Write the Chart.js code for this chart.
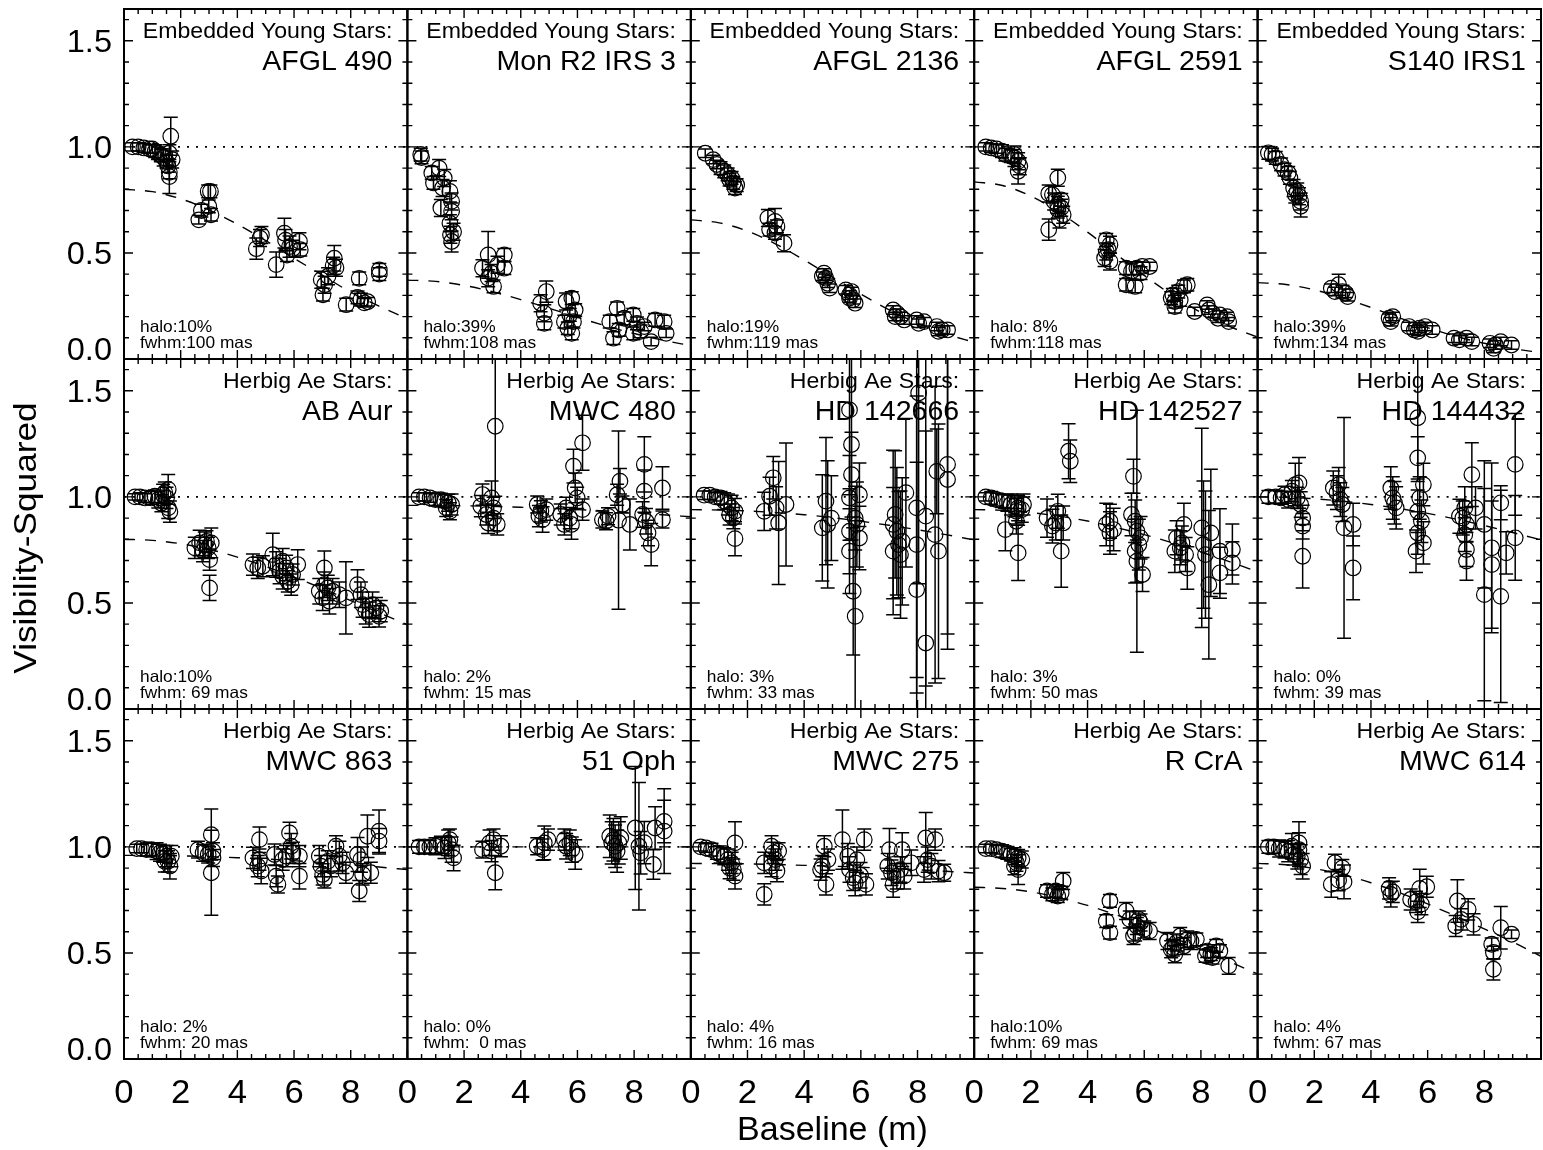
<!DOCTYPE html>
<html>
<head>
<meta charset="utf-8">
<script src="https://cdn.jsdelivr.net/npm/chart.js@4.4.1/dist/chart.umd.min.js"></script>
<style>
  html, body { margin: 0; padding: 0; background: #fff; overflow: hidden; }
  #wrap { position: relative; width: 1550px; height: 1150px; }
</style>
</head>
<body>
<div id="wrap"><canvas id="visChart" width="1550" height="1150"></canvas></div>
<script>
// ---- labels ----
const groups = [
  'Embedded Young Stars:', 'Embedded Young Stars:', 'Embedded Young Stars:', 'Embedded Young Stars:', 'Embedded Young Stars:',
  'Herbig Ae Stars:', 'Herbig Ae Stars:', 'Herbig Ae Stars:', 'Herbig Ae Stars:', 'Herbig Ae Stars:',
  'Herbig Ae Stars:', 'Herbig Ae Stars:', 'Herbig Ae Stars:', 'Herbig Ae Stars:', 'Herbig Ae Stars:'
];
const stars = ['AFGL 490', 'Mon R2 IRS 3', 'AFGL 2136', 'AFGL 2591', 'S140 IRS1',
  'AB Aur', 'MWC 480', 'HD 142666', 'HD 142527', 'HD 144432',
  'MWC 863', '51 Oph', 'MWC 275', 'R CrA', 'MWC 614'];
const halos = ['halo:10%', 'halo:39%', 'halo:19%', 'halo: 8%', 'halo:39%',
  'halo:10%', 'halo: 2%', 'halo: 3%', 'halo: 3%', 'halo: 0%',
  'halo: 2%', 'halo: 0%', 'halo: 4%', 'halo:10%', 'halo: 4%'];
const fwhms = ['fwhm:100 mas', 'fwhm:108 mas', 'fwhm:119 mas', 'fwhm:118 mas', 'fwhm:134 mas',
  'fwhm: 69 mas', 'fwhm: 15 mas', 'fwhm: 33 mas', 'fwhm: 50 mas', 'fwhm: 39 mas',
  'fwhm: 20 mas', 'fwhm:  0 mas', 'fwhm: 16 mas', 'fwhm: 69 mas', 'fwhm: 67 mas'];
const xTickLabels = [0, 2, 4, 6, 8];
const yTickLabels = [0.0, 0.5, 1.0, 1.5];
const xTitle = 'Baseline (m)';
const yTitle = 'Visibility-Squared';
const unity = 1.0;

// ---- measurements: [baseline (m), V^2, error] ----
const afgl490 = [[0.3,1.00,0.02],[0.5,1.00,0.02],[0.7,0.995,0.02],[0.9,0.99,0.02],
  [1.0,0.99,0.02],[1.1,0.98,0.03],[1.2,0.97,0.03],[1.3,0.96,0.03],[1.4,0.95,0.04],[1.5,0.93,0.03],[1.55,0.91,0.03],[1.6,0.88,0.03],[1.6,0.97,0.04],[1.7,0.94,0.04],[1.65,1.05,0.09],[1.6,0.86,0.08],
  [2.64,0.656,0.02],[2.73,0.70,0.03],[2.97,0.79,0.03],[3.05,0.79,0.03],[2.99,0.72,0.03],[3.07,0.68,0.03],
  [4.67,0.52,0.05],[4.85,0.585,0.04],[4.8,0.57,0.04],[5.37,0.445,0.06],
  [5.66,0.593,0.07],[5.7,0.56,0.05],[5.84,0.53,0.05],[5.95,0.52,0.04],[5.75,0.49,0.03],[6.19,0.555,0.04],[6.22,0.515,0.03],
  [6.96,0.374,0.04],[7.02,0.303,0.03],[7.08,0.35,0.04],[7.2,0.39,0.04],[7.42,0.475,0.06],[7.48,0.43,0.04],[7.38,0.44,0.04],
  [7.84,0.256,0.03],[8.3,0.38,0.03],[8.36,0.28,0.03],[8.48,0.265,0.02],[8.6,0.27,0.02],[8.24,0.29,0.03],
  [9.01,0.42,0.03],[9.01,0.40,0.03]];
const monR2 = [[0.47,0.964,0.03],[0.5,0.95,0.03],
  [0.86,0.877,0.03],[1.12,0.90,0.04],[0.92,0.83,0.03],[1.3,0.853,0.04],[1.24,0.806,0.04],[1.18,0.712,0.04],[1.5,0.79,0.05],[1.56,0.743,0.04],[1.56,0.696,0.04],[1.5,0.64,0.04],[1.63,0.60,0.04],[1.56,0.554,0.05],[1.52,0.586,0.04],
  [2.85,0.491,0.11],[2.65,0.428,0.04],[2.97,0.405,0.04],[3.04,0.342,0.03],[3.42,0.491,0.03],[3.42,0.428,0.03],[3.18,0.444,0.04],[2.85,0.381,0.04],
  [4.9,0.318,0.05],[4.7,0.263,0.04],[4.83,0.216,0.04],[4.83,0.168,0.03],
  [5.6,0.271,0.04],[5.8,0.287,0.03],[5.73,0.208,0.03],[5.86,0.176,0.03],[5.8,0.121,0.03],[5.54,0.176,0.03],[5.92,0.231,0.03],[5.66,0.145,0.03],
  [7.4,0.239,0.03],[7.14,0.176,0.03],[7.27,0.098,0.03],[7.46,0.137,0.03],[7.65,0.192,0.03],[7.97,0.208,0.03],[8.1,0.168,0.03],[7.97,0.121,0.03],
  [8.36,0.153,0.02],[8.74,0.184,0.03],[8.6,0.082,0.02],[9.06,0.176,0.03],[9.13,0.121,0.02],[8.23,0.13,0.03]];
const afgl2136 = [[0.51,0.97,0.02],[0.79,0.94,0.02],[0.92,0.917,0.02],[1.05,0.90,0.03],[1.18,0.885,0.03],[1.3,0.87,0.03],[1.44,0.854,0.03],[1.5,0.83,0.03],[1.56,0.806,0.03],[1.62,0.82,0.03],[1.37,0.846,0.03],
  [2.72,0.665,0.04],[2.97,0.649,0.06],[2.78,0.61,0.03],[2.97,0.594,0.03],[3.29,0.546,0.04],[3.04,0.625,0.03],
  [4.7,0.405,0.02],[4.76,0.381,0.02],[4.83,0.357,0.02],[4.9,0.334,0.02],[4.64,0.39,0.02],
  [5.47,0.326,0.02],[5.6,0.302,0.02],[5.73,0.279,0.02],[5.8,0.263,0.02],[5.6,0.287,0.02],[5.67,0.318,0.02],
  [7.14,0.231,0.02],[7.27,0.216,0.02],[7.4,0.20,0.02],[7.53,0.184,0.02],[7.21,0.20,0.02],
  [7.97,0.184,0.02],[8.23,0.176,0.02],[8.04,0.168,0.02],[8.68,0.153,0.02],[8.87,0.137,0.02],[9.06,0.137,0.02],[8.74,0.13,0.02]];
const afgl2591 = [[0.41,1.0,0.02],[0.6,0.995,0.02],[0.79,0.99,0.02],[0.98,0.98,0.03],[1.1,0.964,0.03],[1.3,0.956,0.03],[1.42,0.948,0.04],[1.55,0.932,0.04],[1.61,0.909,0.04],[1.55,0.885,0.06],[1.42,0.964,0.04],
  [2.95,0.854,0.04],[2.63,0.78,0.04],[2.76,0.775,0.04],[2.63,0.61,0.05],[2.82,0.743,0.04],[2.95,0.727,0.04],[3.07,0.75,0.03],[2.95,0.705,0.04],[3.14,0.68,0.04],[3.01,0.657,0.04],[3.07,0.713,0.04],
  [4.66,0.562,0.03],[4.79,0.539,0.04],[4.73,0.515,0.03],[4.6,0.476,0.04],[4.79,0.46,0.04],[4.66,0.507,0.04],
  [5.36,0.428,0.03],[5.55,0.413,0.04],[5.74,0.428,0.03],[5.93,0.436,0.02],[6.19,0.436,0.02],[5.36,0.35,0.03],[5.68,0.342,0.03],[5.87,0.405,0.03],
  [7.01,0.302,0.03],[7.08,0.271,0.03],[7.2,0.318,0.03],[7.4,0.342,0.03],[7.52,0.35,0.03],[6.95,0.287,0.03],[7.27,0.279,0.03],[7.08,0.247,0.03],
  [7.78,0.224,0.02],[8.22,0.255,0.02],[8.28,0.231,0.02],[8.41,0.216,0.02],[8.67,0.208,0.02],[8.92,0.20,0.02],[8.98,0.176,0.02],[8.6,0.192,0.02]];
const s140 = [[0.38,0.972,0.03],[0.51,0.964,0.03],[0.64,0.948,0.03],[0.83,0.917,0.03],[0.95,0.893,0.03],[1.08,0.877,0.03],[1.14,0.854,0.03],[1.27,0.806,0.04],[1.4,0.79,0.04],[1.46,0.767,0.04],[1.52,0.743,0.04],[1.52,0.72,0.05],[1.33,0.775,0.04],
  [2.6,0.334,0.02],[2.86,0.35,0.05],[2.99,0.318,0.03],[3.18,0.294,0.02],[2.73,0.318,0.02],[3.11,0.31,0.02],
  [4.64,0.192,0.02],[4.7,0.176,0.02],[4.77,0.20,0.02],
  [5.34,0.153,0.02],[5.53,0.137,0.02],[5.72,0.145,0.02],[5.91,0.153,0.02],[6.16,0.137,0.02],[5.66,0.13,0.02],
  [6.93,0.098,0.02],[7.12,0.09,0.02],[7.37,0.098,0.02],[7.56,0.082,0.02],
  [8.2,0.074,0.02],[8.39,0.066,0.02],[8.58,0.082,0.02],[8.96,0.066,0.02],[8.33,0.05,0.02]];
const abAur = [[0.39,1.0,0.015],[0.56,1.0,0.02],[0.74,0.995,0.02],[0.97,0.995,0.03],[1.09,1.003,0.03],[1.21,0.987,0.04],[1.38,1.01,0.05],[1.5,0.995,0.05],[1.56,1.035,0.07],[1.62,0.93,0.05],[1.56,0.948,0.05],[1.44,1.02,0.05],[1.32,0.97,0.04],
  [2.5,0.76,0.05],[2.67,0.783,0.06],[2.85,0.775,0.06],[2.97,0.76,0.05],[3.08,0.783,0.07],[3.02,0.704,0.05],[3.02,0.571,0.06],[2.79,0.744,0.05],[2.91,0.79,0.05],
  [4.55,0.681,0.05],[4.72,0.665,0.05],[4.9,0.673,0.05],
  [5.25,0.728,0.1],[5.37,0.681,0.06],[5.49,0.65,0.06],[5.6,0.626,0.06],[5.72,0.665,0.06],[5.78,0.602,0.05],[5.95,0.634,0.05],[6.13,0.681,0.07],[5.9,0.586,0.05],[5.6,0.697,0.06],
  [7.07,0.665,0.08],[6.89,0.555,0.06],[7.01,0.524,0.06],[7.19,0.571,0.06],[7.36,0.555,0.06],[7.6,0.539,0.06],[7.83,0.524,0.17],[7.25,0.508,0.06],[7.07,0.586,0.06],
  [8.24,0.586,0.07],[8.36,0.539,0.06],[8.42,0.492,0.06],[8.53,0.461,0.06],[8.65,0.445,0.06],[8.89,0.476,0.05],[9.06,0.461,0.05],[9.0,0.437,0.05],[8.77,0.492,0.06]];
const mwc480 = [[0.41,1.0,0.02],[0.6,1.0,0.02],[0.8,0.995,0.02],[0.99,0.987,0.03],[1.18,0.987,0.03],[1.31,0.98,0.03],[1.44,0.972,0.04],[1.56,0.964,0.05],[1.5,0.932,0.04],[1.37,0.948,0.04],
  [2.65,1.011,0.05],[2.59,0.956,0.05],[2.78,0.917,0.05],[2.97,0.995,0.08],[3.04,0.90,0.06],[3.1,1.333,0.33],[3.17,0.87,0.05],[2.85,0.877,0.05],[3.04,0.948,0.05],
  [4.58,0.964,0.04],[4.71,0.932,0.05],[4.77,0.893,0.06],[4.9,0.94,0.05],[4.64,0.909,0.05],
  [5.41,0.917,0.05],[5.6,0.948,0.05],[5.73,0.90,0.05],[5.79,0.87,0.07],[5.92,1.042,0.07],[5.86,1.145,0.08],[6.18,1.255,0.13],[6.18,0.94,0.05],[5.99,0.995,0.05],[5.54,0.87,0.05],
  [6.88,0.893,0.04],[7.01,0.885,0.04],[7.08,0.909,0.04],[7.45,0.89,0.42],[7.5,1.074,0.06],[7.4,1.01,0.05],[7.59,0.964,0.04],
  [7.85,0.87,0.12],[8.36,1.153,0.13],[8.36,1.027,0.1],[8.3,0.917,0.06],[8.42,0.885,0.06],[8.6,0.775,0.1],[9.0,1.042,0.1],[9.0,0.893,0.04],[8.49,0.83,0.06]];
const hd142666 = [[0.47,1.008,0.02],[0.67,1.008,0.02],[0.86,1.0,0.02],[1.05,0.995,0.03],[1.18,0.98,0.04],[1.31,0.964,0.05],[1.44,0.948,0.06],[1.56,0.932,0.06],[1.5,0.90,0.05],[1.37,0.917,0.05],[1.56,0.803,0.08],
  [2.59,0.932,0.09],[2.78,1.003,0.09],[2.91,1.09,0.1],[3.01,0.948,0.1],[3.1,0.877,0.29],[3.36,0.964,0.29],
  [4.77,0.98,0.3],[4.83,0.87,0.3],[4.64,0.854,0.25],[4.96,0.90,0.2],
  [5.6,1.41,0.4],[5.67,1.247,0.45],[5.67,1.105,0.2],[5.6,0.995,0.2],[5.8,0.90,0.15],[5.86,0.87,0.2],[5.6,0.838,0.2],[5.95,0.806,0.15],[5.6,0.744,0.2],[5.73,0.555,0.3],[5.8,0.437,0.45],[5.95,1.01,0.15],
  [7.14,0.87,0.35],[7.21,0.917,0.3],[7.14,0.744,0.3],[7.33,0.775,0.25],[7.4,0.728,0.3],[7.46,0.79,0.3],[7.59,1.02,0.35],[7.27,0.838,0.3],
  [8.04,1.49,0.9],[7.97,0.948,0.8],[7.97,0.775,0.7],[7.97,0.563,0.6],[8.29,0.909,0.8],[8.29,0.311,1.0],[8.62,0.822,0.7],[8.74,0.744,0.6],[8.68,1.12,0.2],[9.06,1.153,0.8],[9.06,1.082,0.8]];
const hd142527 = [[0.41,1.0,0.02],[0.6,0.995,0.03],[0.79,0.987,0.03],[0.98,0.98,0.03],[1.17,0.972,0.04],[1.3,0.964,0.05],[1.42,0.956,0.05],[1.55,0.948,0.06],[1.68,0.94,0.06],[1.1,0.846,0.1],[1.49,0.885,0.06],[1.55,0.736,0.13],[1.49,0.932,0.06],[1.74,0.964,0.05],
  [2.57,0.90,0.09],[2.76,0.862,0.08],[2.95,0.932,0.08],[3.07,0.744,0.17],[3.14,0.877,0.08],[3.33,1.215,0.13],[3.39,1.168,0.1],[2.88,0.877,0.08],
  [4.66,0.87,0.1],[4.79,0.83,0.1],[4.92,0.846,0.1],[4.79,0.885,0.08],
  [5.62,1.097,0.08],[5.55,0.917,0.1],[5.68,0.885,0.1],[5.74,0.838,0.57],[5.87,0.807,0.1],[5.68,0.744,0.15],[5.74,0.697,0.1],[5.94,0.634,0.08],[5.81,0.775,0.12],
  [7.14,0.807,0.08],[7.27,0.76,0.08],[7.4,0.87,0.1],[7.33,0.783,0.08],[7.46,0.728,0.08],[7.52,0.665,0.1],[7.08,0.744,0.1],
  [8.03,0.854,0.47],[8.09,0.775,0.3],[8.16,0.728,0.3],[8.28,0.586,0.35],[8.35,0.83,0.3],[8.67,0.744,0.2],[8.67,0.642,0.12],[9.11,0.752,0.12],[9.11,0.689,0.1]];
const hd144432 = [[0.38,1.0,0.03],[0.64,1.0,0.03],[0.83,0.995,0.03],[0.95,1.01,0.04],[1.08,0.987,0.04],[1.21,1.027,0.05],[1.33,1.058,0.1],[1.4,0.995,0.05],[1.52,0.964,0.06],[1.59,0.90,0.06],[1.59,0.862,0.06],[1.59,0.72,0.15],[1.46,1.066,0.12],
  [2.67,1.042,0.08],[2.8,1.02,0.08],[2.92,0.987,0.08],[2.86,1.058,0.08],[2.99,0.964,0.08],[3.05,0.854,0.52],[3.37,0.87,0.1],[3.37,0.665,0.15],
  [4.7,1.042,0.1],[4.77,0.995,0.1],[4.83,0.972,0.1],[4.89,0.948,0.1],
  [5.65,1.373,0.3],[5.65,1.184,0.1],[5.85,1.058,0.1],[5.72,0.995,0.1],[5.65,0.932,0.1],[5.78,0.885,0.1],[5.65,0.83,0.1],[5.85,0.783,0.1],[5.59,0.744,0.1],
  [7.31,0.948,0.1],[7.24,0.90,0.08],[7.37,0.87,0.08],[7.31,0.822,0.08],[7.37,0.752,0.08],[7.37,0.697,0.09],[7.56,1.105,0.15],[7.69,0.948,0.1],[7.12,0.909,0.08],
  [8.0,0.87,0.3],[8.26,0.76,0.4],[8.26,0.681,0.3],[8.58,0.972,0.08],[8.0,0.539,0.5],[8.58,0.531,0.5],[8.77,0.736,0.1],[9.09,1.153,0.24],[9.09,0.807,0.2]];
const mwc863 = [[0.45,0.992,0.02],[0.62,0.992,0.02],[0.8,0.987,0.03],[0.97,0.987,0.03],[1.15,0.98,0.04],[1.27,0.972,0.04],[1.38,0.967,0.04],[1.5,0.956,0.05],[1.55,0.932,0.05],[1.62,0.909,0.06],[1.44,0.932,0.05],[1.67,0.956,0.05],
  [2.61,0.987,0.04],[2.79,0.972,0.04],[2.97,0.964,0.04],[3.08,1.058,0.12],[3.14,0.98,0.04],[3.14,0.948,0.04],[3.08,0.878,0.2],
  [4.78,1.034,0.06],[4.55,0.948,0.05],[4.78,0.94,0.05],[4.84,0.886,0.06],[4.72,0.909,0.05],
  [5.31,0.964,0.05],[5.37,0.862,0.05],[5.43,0.823,0.04],[5.6,0.94,0.05],[5.72,0.956,0.05],[5.84,1.066,0.05],[5.9,1.003,0.06],[5.96,0.972,0.05],[6.19,0.956,0.05],[6.19,0.862,0.06],
  [6.89,0.956,0.05],[6.95,0.909,0.05],[7.01,0.87,0.05],[7.07,0.846,0.04],[7.19,0.932,0.05],[7.3,0.909,0.05],[7.48,1.003,0.05],[7.6,0.956,0.07],[7.83,0.878,0.05],[7.71,0.925,0.05],
  [8.24,0.964,0.08],[8.36,0.94,0.06],[8.42,0.87,0.05],[8.3,0.792,0.05],[8.59,1.05,0.1],[8.71,0.878,0.05],[9.0,1.074,0.1],[9.0,1.027,0.06]];
const oph51 = [[0.41,1.0,0.03],[0.6,1.0,0.03],[0.79,1.0,0.03],[0.99,1.003,0.04],[1.18,1.01,0.04],[1.31,0.995,0.05],[1.44,1.019,0.06],[1.56,0.987,0.06],[1.63,0.948,0.06],[1.5,1.034,0.05],
  [2.65,0.987,0.04],[2.9,1.019,0.06],[3.04,1.034,0.05],[3.1,0.878,0.08],[3.3,1.003,0.05],[2.97,0.98,0.05],
  [4.58,1.003,0.04],[4.83,1.019,0.08],[4.96,1.034,0.05],[4.77,0.987,0.05],
  [5.54,1.034,0.05],[5.73,1.019,0.06],[5.8,0.987,0.06],[5.92,0.964,0.07],[5.6,1.003,0.06],
  [7.14,1.05,0.1],[7.27,1.034,0.1],[7.33,1.003,0.1],[7.4,0.98,0.1],[7.53,1.042,0.1],[7.21,1.019,0.1],[7.46,1.019,0.1],
  [8.04,1.089,0.29],[8.17,1.003,0.3],[8.23,0.972,0.1],[8.68,0.917,0.07],[8.74,1.089,0.1],[9.06,1.12,0.1],[9.06,1.074,0.2],[8.36,1.02,0.1]];
const mwc275 = [[0.35,1.0,0.02],[0.54,0.995,0.02],[0.73,0.987,0.03],[0.92,0.972,0.03],[1.05,0.964,0.04],[1.18,0.956,0.04],[1.31,0.94,0.05],[1.44,0.925,0.05],[1.5,0.893,0.05],[1.56,1.019,0.1],[1.56,0.862,0.06],[1.37,0.90,0.05],
  [2.59,0.925,0.05],[2.59,0.776,0.05],[2.85,1.003,0.05],[2.91,0.972,0.05],[2.98,0.94,0.05],[3.1,0.98,0.04],[3.04,0.886,0.05],[2.85,0.909,0.05],
  [4.71,1.003,0.05],[4.64,0.909,0.05],[4.77,0.823,0.05],[4.84,0.94,0.05],[4.58,0.893,0.05],
  [5.35,1.034,0.14],[5.54,0.956,0.06],[5.6,0.893,0.06],[5.73,0.854,0.06],[5.8,0.83,0.06],[5.86,0.94,0.06],[6.12,1.034,0.05],[6.18,0.823,0.05],[5.99,0.866,0.06],
  [7.01,0.987,0.1],[6.95,0.909,0.06],[7.08,0.878,0.06],[7.14,0.823,0.06],[7.27,0.862,0.06],[7.46,0.987,0.08],[7.53,0.862,0.06],[7.78,0.925,0.06],[7.4,0.893,0.06],
  [8.29,1.042,0.12],[8.62,1.034,0.05],[8.36,0.94,0.06],[8.49,0.909,0.06],[8.23,0.893,0.06],[8.94,0.878,0.04],[8.74,0.886,0.05]];
const rCrA = [[0.41,0.992,0.02],[0.6,0.992,0.02],[0.79,0.987,0.02],[0.98,0.98,0.03],[1.17,0.972,0.03],[1.3,0.964,0.03],[1.42,0.956,0.04],[1.55,0.948,0.04],[1.68,0.94,0.04],[1.49,0.925,0.04],[1.55,0.893,0.07],[1.42,0.909,0.04],
  [2.57,0.792,0.03],[2.76,0.776,0.03],[2.95,0.768,0.03],[3.07,0.784,0.03],[3.14,0.839,0.04],[2.88,0.792,0.03],
  [4.79,0.745,0.03],[4.66,0.65,0.03],[4.79,0.596,0.03],
  [5.36,0.698,0.04],[5.49,0.658,0.04],[5.62,0.58,0.04],[5.74,0.627,0.04],[5.87,0.643,0.04],[6.0,0.611,0.04],[6.19,0.603,0.04],[5.68,0.596,0.04],[5.81,0.658,0.04],
  [6.82,0.556,0.04],[6.95,0.517,0.04],[7.08,0.494,0.04],[7.14,0.549,0.04],[7.27,0.58,0.04],[7.4,0.533,0.04],[7.52,0.564,0.04],[7.65,0.556,0.04],[7.84,0.564,0.03],[7.01,0.525,0.04],
  [8.22,0.509,0.03],[8.35,0.494,0.03],[8.41,0.478,0.03],[8.54,0.533,0.03],[8.67,0.509,0.03],[8.98,0.439,0.04],[8.16,0.486,0.03]];
const mwc614 = [[0.38,1.0,0.03],[0.57,1.0,0.03],[0.76,0.992,0.04],[0.95,0.987,0.04],[1.08,0.98,0.05],[1.21,1.003,0.06],[1.27,0.964,0.05],[1.4,0.956,0.06],[1.46,0.987,0.08],[1.52,0.94,0.07],[1.59,0.909,0.06],[1.46,1.019,0.1],
  [2.6,0.823,0.06],[2.73,0.925,0.04],[2.99,0.901,0.04],[2.86,0.843,0.05],[3.05,0.835,0.08],
  [4.7,0.776,0.06],[4.64,0.804,0.05],[4.77,0.788,0.05],
  [5.4,0.752,0.05],[5.59,0.741,0.05],[5.72,0.804,0.09],[5.78,0.73,0.05],[5.97,0.812,0.05],[5.65,0.694,0.05],
  [7.05,0.745,0.1],[6.99,0.627,0.05],[7.18,0.658,0.05],[7.43,0.705,0.05],[7.62,0.635,0.05],
  [8.26,0.541,0.03],[8.32,0.502,0.03],[8.32,0.423,0.05],[8.58,0.619,0.1],[8.96,0.588,0.02]];

// ---- halo + gaussian model curves, read at these baselines ----
const modelB = [0, 1, 2, 3, 4, 5, 6, 7, 8, 9, 10];
const afgl490Model  = [0.80, 0.789, 0.755, 0.703, 0.635, 0.558, 0.475, 0.395, 0.315, 0.249, 0.19];
const monR2Model    = [0.372, 0.366, 0.347, 0.317, 0.280, 0.239, 0.197, 0.156, 0.120, 0.089, 0.063];
const afgl2136Model = [0.656, 0.642, 0.603, 0.542, 0.467, 0.386, 0.306, 0.232, 0.169, 0.118, 0.079];
const afgl2591Model = [0.835, 0.818, 0.768, 0.692, 0.598, 0.495, 0.394, 0.300, 0.219, 0.154, 0.103];
const s140Model     = [0.36, 0.351, 0.326, 0.288, 0.243, 0.194, 0.148, 0.107, 0.074, 0.049, 0.030];
const abAurModel    = [0.80, 0.795, 0.779, 0.753, 0.716, 0.672, 0.622, 0.568, 0.511, 0.454, 0.397];
const mwc480Model   = [0.96, 0.96, 0.958, 0.955, 0.951, 0.946, 0.94, 0.933, 0.925, 0.916, 0.906];
const hd142666Model = [0.94, 0.938, 0.934, 0.926, 0.916, 0.902, 0.885, 0.866, 0.845, 0.822, 0.797];
const hd142527Model = [0.94, 0.937, 0.926, 0.909, 0.886, 0.856, 0.822, 0.783, 0.740, 0.695, 0.647];
const hd144432Model = [1.0, 0.998, 0.991, 0.98, 0.964, 0.945, 0.922, 0.895, 0.865, 0.832, 0.797];
const mwc863Model   = [0.96, 0.96, 0.958, 0.954, 0.949, 0.943, 0.935, 0.926, 0.916, 0.905, 0.893];
const oph51Model    = [1.0, 1.0, 1.0, 1.0, 1.0, 1.0, 1.0, 1.0, 1.0, 1.0, 1.0];
const mwc275Model   = [0.922, 0.921, 0.92, 0.917, 0.913, 0.909, 0.904, 0.898, 0.892, 0.885, 0.877];
const rCrAModel     = [0.81, 0.804, 0.788, 0.760, 0.724, 0.680, 0.629, 0.574, 0.517, 0.459, 0.401];
const mwc614Model   = [0.922, 0.916, 0.898, 0.869, 0.831, 0.785, 0.731, 0.673, 0.613, 0.552, 0.484];

const panelData = [afgl490, monR2, afgl2136, afgl2591, s140, abAur, mwc480, hd142666, hd142527, hd144432, mwc863, oph51, mwc275, rCrA, mwc614];
const panelModels = [afgl490Model, monR2Model, afgl2136Model, afgl2591Model, s140Model, abAurModel, mwc480Model, hd142666Model,
  hd142527Model, hd144432Model, mwc863Model, oph51Model, mwc275Model, rCrAModel, mwc614Model];

const NCOL = 5, NROW = 3;
const FONT = '"Liberation Sans", Arial, Helvetica, sans-serif';
Chart.defaults.font.family = FONT;
Chart.defaults.color = '#000';

// build datasets, one panel = one (x, y) axis pair
const datasets = [];
panelData.forEach((pts, i) => {
  const xId = 'x' + (i % NCOL);
  const yId = 'y' + Math.floor(i / NCOL);
  datasets.push({
    type: 'line', xAxisID: xId, yAxisID: yId,
    data: [{ x: 0, y: unity }, { x: 10, y: unity }],
    borderColor: '#000', borderWidth: 1.7, borderDash: [2, 7], pointRadius: 0, fill: false
  });
  datasets.push({
    type: 'line', xAxisID: xId, yAxisID: yId,
    data: modelB.map((b, k) => ({ x: b, y: panelModels[i][k] })),
    borderColor: '#000', borderWidth: 1.4, borderDash: [11, 10], pointRadius: 0, fill: false,
    cubicInterpolationMode: 'monotone'
  });
  datasets.push({
    type: 'scatter', xAxisID: xId, yAxisID: yId,
    data: pts.map(p => ({ x: p[0], y: p[1] })),
    errors: pts.map(p => p[2]),
    pointStyle: 'circle', pointRadius: 7.8, pointBorderWidth: 1.2,
    borderColor: '#000', backgroundColor: 'rgba(0,0,0,0)', pointBackgroundColor: 'rgba(0,0,0,0)'
  });
});

function zeroPad(s) { s.paddingLeft = 0; s.paddingRight = 0; s.paddingTop = 0; s.paddingBottom = 0; }

const scales = {};
for (let c = 0; c < NCOL; c++) {
  scales['x' + c] = {
    type: 'linear', position: 'bottom', stack: 'cols', stackWeight: 1,
    min: 0, max: 10,
    grid: { display: false }, border: { display: false },
    ticks: { display: false, stepSize: 2 },
    afterFit: s => { s.height = 91; zeroPad(s); }
  };
}
for (let r = 0; r < NROW; r++) {
  scales['y' + r] = {
    type: 'linear', position: 'left', stack: 'rows', stackWeight: 1, weight: NROW - r,
    min: 0, max: 1.65,
    grid: { display: false }, border: { display: false },
    ticks: { display: false, stepSize: 0.5 },
    afterFit: s => { s.width = 124; zeroPad(s); }
  };
}

function stretchText(ctx, text, x, y, align, size, sx, rot) {
  ctx.save();
  ctx.font = size + 'px ' + FONT;
  ctx.fillStyle = '#000';
  ctx.textAlign = align;
  ctx.textBaseline = 'alphabetic';
  ctx.translate(x, y);
  if (rot) ctx.rotate(rot);
  ctx.scale(sx, 1);
  ctx.fillText(text, 0, 0);
  ctx.restore();
}

const panelPlugin = {
  id: 'panels',
  beforeDatasetsDraw(chart) {
    // vertical error bars with caps
    const ctx = chart.ctx;
    const cap = 7;
    chart.data.datasets.forEach((ds, di) => {
      if (!ds.errors) return;
      const meta = chart.getDatasetMeta(di);
      const xs = chart.scales[meta.xAxisID];
      const ys = chart.scales[meta.yAxisID];
      ctx.save();
      ctx.beginPath();
      ctx.rect(xs.left, ys.top, xs.right - xs.left, ys.bottom - ys.top);
      ctx.clip();
      ctx.strokeStyle = '#000';
      ctx.lineWidth = 1.5;
      ds.data.forEach((p, k) => {
        const px = xs.getPixelForValue(p.x);
        const hi = ys.getPixelForValue(p.y + ds.errors[k]);
        const lo = ys.getPixelForValue(p.y - ds.errors[k]);
        ctx.beginPath();
        ctx.moveTo(px, hi); ctx.lineTo(px, lo);
        ctx.moveTo(px - cap, hi); ctx.lineTo(px + cap, hi);
        ctx.moveTo(px - cap, lo); ctx.lineTo(px + cap, lo);
        ctx.stroke();
      });
      ctx.restore();
    });
  },
  afterDatasetsDraw(chart) {
    const ctx = chart.ctx;
    for (let r = 0; r < NROW; r++) {
      for (let c = 0; c < NCOL; c++) {
        const xs = chart.scales['x' + c];
        const ys = chart.scales['y' + r];
        const L = xs.left, R = xs.right, T = ys.top, B = ys.bottom;
        ctx.save();
        ctx.strokeStyle = '#000';
        // ticks on all four sides, pointing inward
        ctx.lineWidth = 1.4;
        ctx.beginPath();
        for (let k = 0; k <= 20; k++) {
          const px = xs.getPixelForValue(k * 0.5);
          const len = (k % 4 === 0) ? 9 : 5;
          ctx.moveTo(px, B); ctx.lineTo(px, B - len);
          ctx.moveTo(px, T); ctx.lineTo(px, T + len);
        }
        for (let k = 0; k <= 16; k++) {
          const py = ys.getPixelForValue(k * 0.1);
          const len = (k % 5 === 0) ? 9 : 5;
          ctx.moveTo(L, py); ctx.lineTo(L + len, py);
          ctx.moveTo(R, py); ctx.lineTo(R - len, py);
        }
        ctx.stroke();
        ctx.lineWidth = 2;
        ctx.strokeRect(L, T, R - L, B - T);
        ctx.restore();

        const i = r * NCOL + c;
        stretchText(ctx, groups[i], R - 15, T + 28.7, 'right', 22, 1.05);
        stretchText(ctx, stars[i], R - 15, T + 61.3, 'right', 28, 1.02);
        stretchText(ctx, halos[i], L + 16, B - 27.5, 'left', 16.5, 1.05);
        stretchText(ctx, fwhms[i], L + 16, B - 11, 'left', 16.5, 1.05);
      }
    }

    // tick labels through the scales
    for (let c = 0; c < NCOL; c++) {
      const xs = chart.scales['x' + c];
      xTickLabels.forEach(v => {
        stretchText(ctx, String(v), xs.getPixelForValue(v), xs.top + 44, 'center', 33, 1.05);
      });
    }
    for (let r = 0; r < NROW; r++) {
      const ys = chart.scales['y' + r];
      yTickLabels.forEach(v => {
        const py = ys.getPixelForValue(v) + 0.358 * 31 - (v === 0 ? 10.5 : 0);
        stretchText(ctx, v.toFixed(1), ys.right - 12, py, 'right', 31, 1.05);
      });
    }

    // axis titles, centred on the middle column / row
    const xm = chart.scales['x2'];
    stretchText(ctx, xTitle, (xm.left + xm.right) / 2, 1140, 'center', 34, 1.0);
    const ym = chart.scales['y1'];
    stretchText(ctx, yTitle, 36, (ym.top + ym.bottom) / 2 + 4, 'center', 32, 1.1, -Math.PI / 2);
  }
};

new Chart(document.getElementById('visChart').getContext('2d'), {
  type: 'scatter',
  data: { datasets: datasets },
  options: {
    responsive: false,
    animation: false,
    devicePixelRatio: 1,
    layout: { padding: { top: 7, right: 5, left: 0, bottom: 0 } },
    plugins: { legend: { display: false }, tooltip: { enabled: false } },
    scales: scales
  },
  plugins: [panelPlugin]
});
</script>
</body>
</html>
